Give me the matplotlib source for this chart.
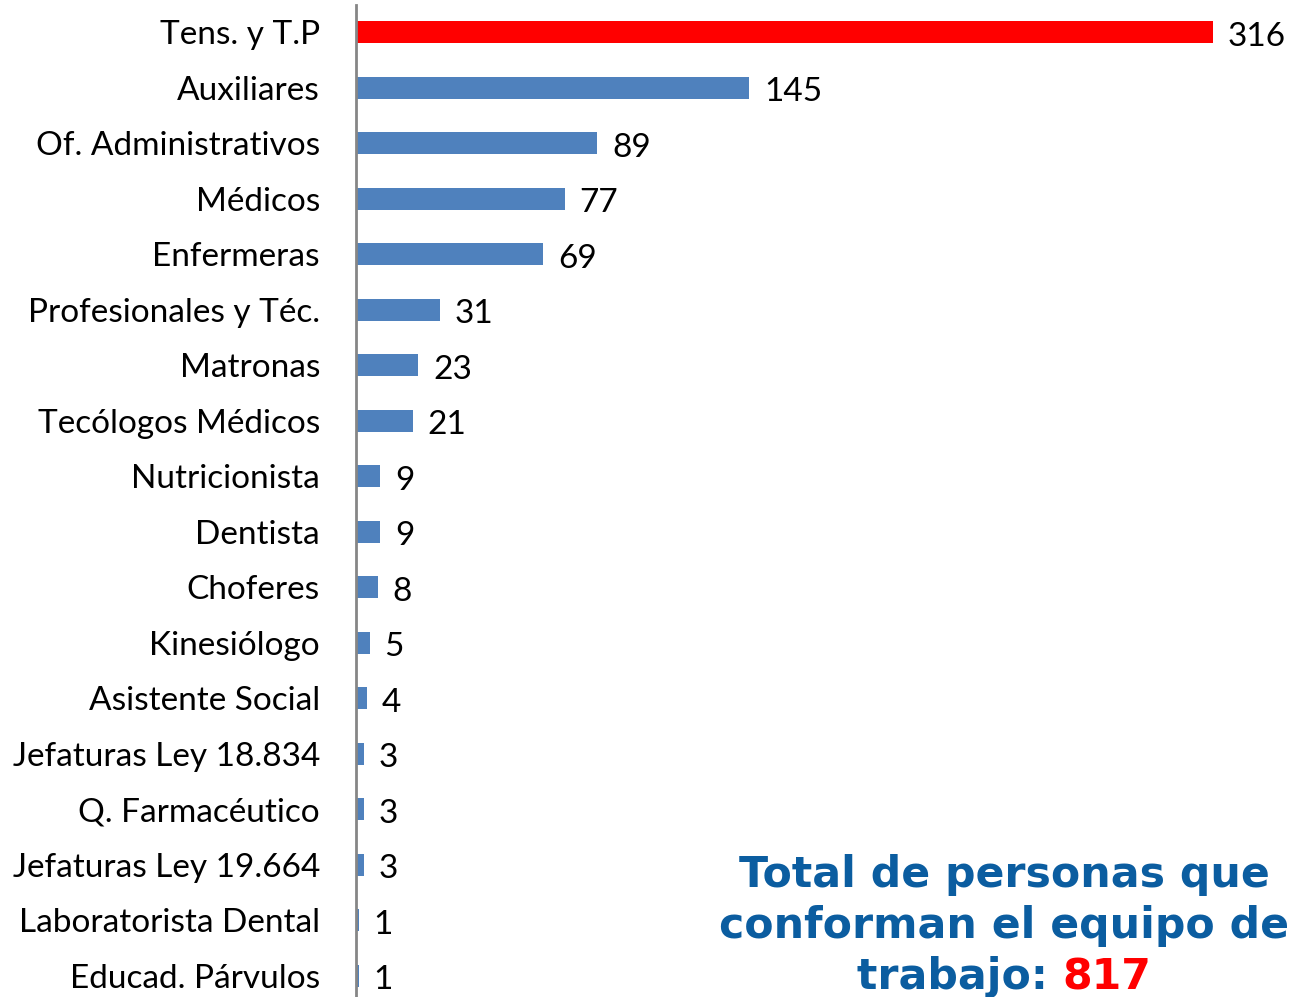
"""Personal por estamento - barras horizontales."""
import matplotlib.pyplot as plt

# -------------------------------------------------------
# Data.
# -------------------------------------------------------
categories = [
    "Tens. y T.P", "Auxiliares", "Of. Administrativos", "Médicos",
    "Enfermeras", "Profesionales y Téc.", "Matronas", "Tecólogos Médicos",
    "Nutricionista", "Dentista", "Choferes", "Kinesiólogo",
    "Asistente Social", "Jefaturas Ley 18.834", "Q. Farmacéutico",
    "Jefaturas Ley 19.664", "Laboratorista Dental", "Educad. Párvulos",
]
values = [316, 145, 89, 77, 69, 31, 23, 21, 9, 9, 8, 5, 4, 3, 3, 3, 1, 1]
total = 817

# -------------------------------------------------------
# Plot.
# -------------------------------------------------------
W, H = 1291, 997
fig = plt.figure(figsize=(W / 100, H / 100), dpi=100)
ax = fig.add_axes([356 / W, 0, 1 - 356 / W, (H - 5) / H])

ypos = list(range(len(categories)))
colors = ["#FF0000"] + ["#4F81BD"] * (len(values) - 1)
ax.barh(ypos, values, height=0.4, color=colors)

ax.set_ylim(17.38, -0.49)
ax.set_xlim(0, (W - 356) / 2.712)

ax.set_yticks(ypos)
ax.set_yticklabels(categories, fontsize=24, family="Lato")
ax.tick_params(axis="y", length=0, pad=26)
ax.set_xticks([])
for s in ["top", "right", "bottom"]:
    ax.spines[s].set_visible(False)
ax.spines["left"].set_color("#868686")
ax.spines["left"].set_linewidth(2)

for y, v in zip(ypos, values):
    ax.text(v + 5.5, y + 0.08, str(v), va="center", ha="left",
            fontsize=24, family="Lato")

# total annotation
tx = 1004 / W
blue = "#0B5DA0"
tprops = dict(fontsize=30.7, fontweight="bold", family="DejaVu Sans")
fig.text(tx, 1 - 875 / H, "Total de personas que", ha="center", va="center",
         color=blue, **tprops)
fig.text(tx, 1 - 926 / H, "conforman el equipo de", ha="center", va="center",
         color=blue, **tprops)
t1 = fig.text(0, 1 - 977 / H, "trabajo: ", ha="left", va="center",
              color=blue, **tprops)
t2 = fig.text(0, 1 - 977 / H, str(total), ha="left", va="center",
              color="#FF0000", **tprops)
fig.canvas.draw()
w1 = t1.get_window_extent().width
w2 = t2.get_window_extent().width
x0 = 1004 - (w1 + w2) / 2
t1.set_x(x0 / W)
t2.set_x((x0 + w1) / W)

fig.savefig("out.png", dpi=100)
